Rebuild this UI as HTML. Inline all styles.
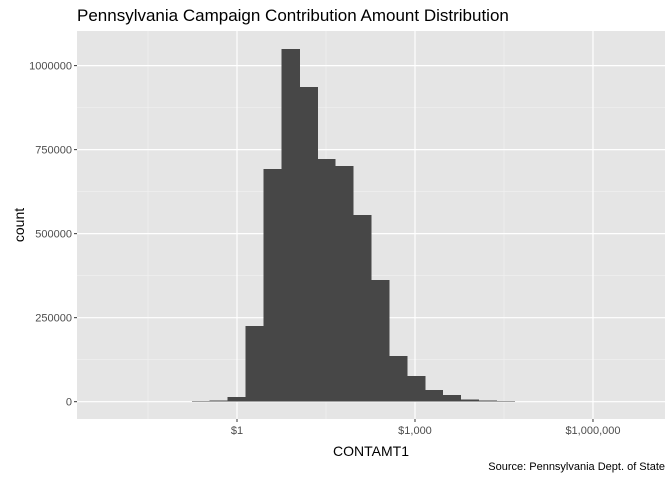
<!DOCTYPE html>
<html><head><meta charset="utf-8"><style>
body{margin:0;background:#fff;font-family:"Liberation Sans",Arial,sans-serif}
</style></head><body>
<svg id="chart" width="672" height="480" xmlns="http://www.w3.org/2000/svg">
<text x="77" y="21" font-size="17" fill="#000">Pennsylvania Campaign Contribution Amount Distribution</text>
<rect x="77" y="31" width="588" height="388" fill="#e5e5e5"/>
<g id="grid"></g><g id="bars" shape-rendering="crispEdges"></g><g id="axes"></g>
<text x="371" y="456" font-size="14" text-anchor="middle" fill="#000">CONTAMT1</text>
<text transform="translate(24,225) rotate(-90)" font-size="14" text-anchor="middle" fill="#000">count</text>
<text x="665" y="470" font-size="11" text-anchor="end" fill="#000">Source: Pennsylvania Dept. of State</text>
</svg>
<script>
const binStart = -1.064;
const binWidth = 0.302;
const counts = [500,1500,3000,14000,225000,692000,1050000,937000,722000,701000,556000,362000,136000,76000,35000,20000,7000,3000,2000,1000,500,300,200];
const xTickValues = [0,3,6];
const xTickLabels = ["$1","$1,000","$1,000,000"];
const xMinor = [-1.5,1.5,4.5];
const yTickValues = [0,250000,500000,750000,1000000];
const yTickLabels = ["0","250000","500000","750000","1000000"];
const yMinor = [125000,375000,625000,875000];

const L=77,R=665,T=31,B=419;
const xMin=-2.697,xMax=7.214,yMin=-51500,yMax=1103000;
const xs=v=>L+(v-xMin)/(xMax-xMin)*(R-L);
const ys=v=>B-(v-yMin)/(yMax-yMin)*(B-T);
const NS="http://www.w3.org/2000/svg";
function mk(tag,attrs,parent){const e=document.createElementNS(NS,tag);for(const k in attrs)e.setAttribute(k,attrs[k]);parent.appendChild(e);return e;}
const grid=document.getElementById('grid'),bars=document.getElementById('bars'),axes=document.getElementById('axes');
xMinor.forEach(v=>{const l=mk('line',{x1:xs(v),x2:xs(v),y1:T,y2:B,stroke:'#f2f2f2','stroke-width':0.6},grid);

});
yMinor.forEach(v=>{const l=mk('line',{x1:L,x2:R,y1:ys(v),y2:ys(v),stroke:'#f2f2f2','stroke-width':0.6},grid);

});
xTickValues.forEach((v,i)=>{const l=mk('line',{x1:xs(v),x2:xs(v),y1:T,y2:B,stroke:'#fff','stroke-width':1.2},grid);


const t=mk('line',{x1:xs(v),x2:xs(v),y1:B,y2:B+3,stroke:'#333','stroke-width':1},axes);


const tx=mk('text',{x:xs(v),y:B+15,'font-size':11,'text-anchor':'middle',fill:'#4d4d4d'},axes);
tx.textContent=xTickLabels[i];

});
yTickValues.forEach((v,i)=>{const l=mk('line',{x1:L,x2:R,y1:ys(v),y2:ys(v),stroke:'#fff','stroke-width':1.2},grid);


const t=mk('line',{x1:L-3,x2:L,y1:ys(v),y2:ys(v),stroke:'#333','stroke-width':1},axes);


const tx=mk('text',{x:L-5,y:ys(v)+4,'font-size':11,'text-anchor':'end',fill:'#4d4d4d'},axes);
tx.textContent=yTickLabels[i];

});
counts.forEach((c,i)=>{const x0=xs(binStart+i*binWidth),x1=xs(binStart+(i+1)*binWidth);
const r=mk('rect',{x:x0,y:ys(c),width:x1-x0+0.6,height:ys(0)-ys(c),fill:'#474747'},bars);

});
</script>
</body></html>
